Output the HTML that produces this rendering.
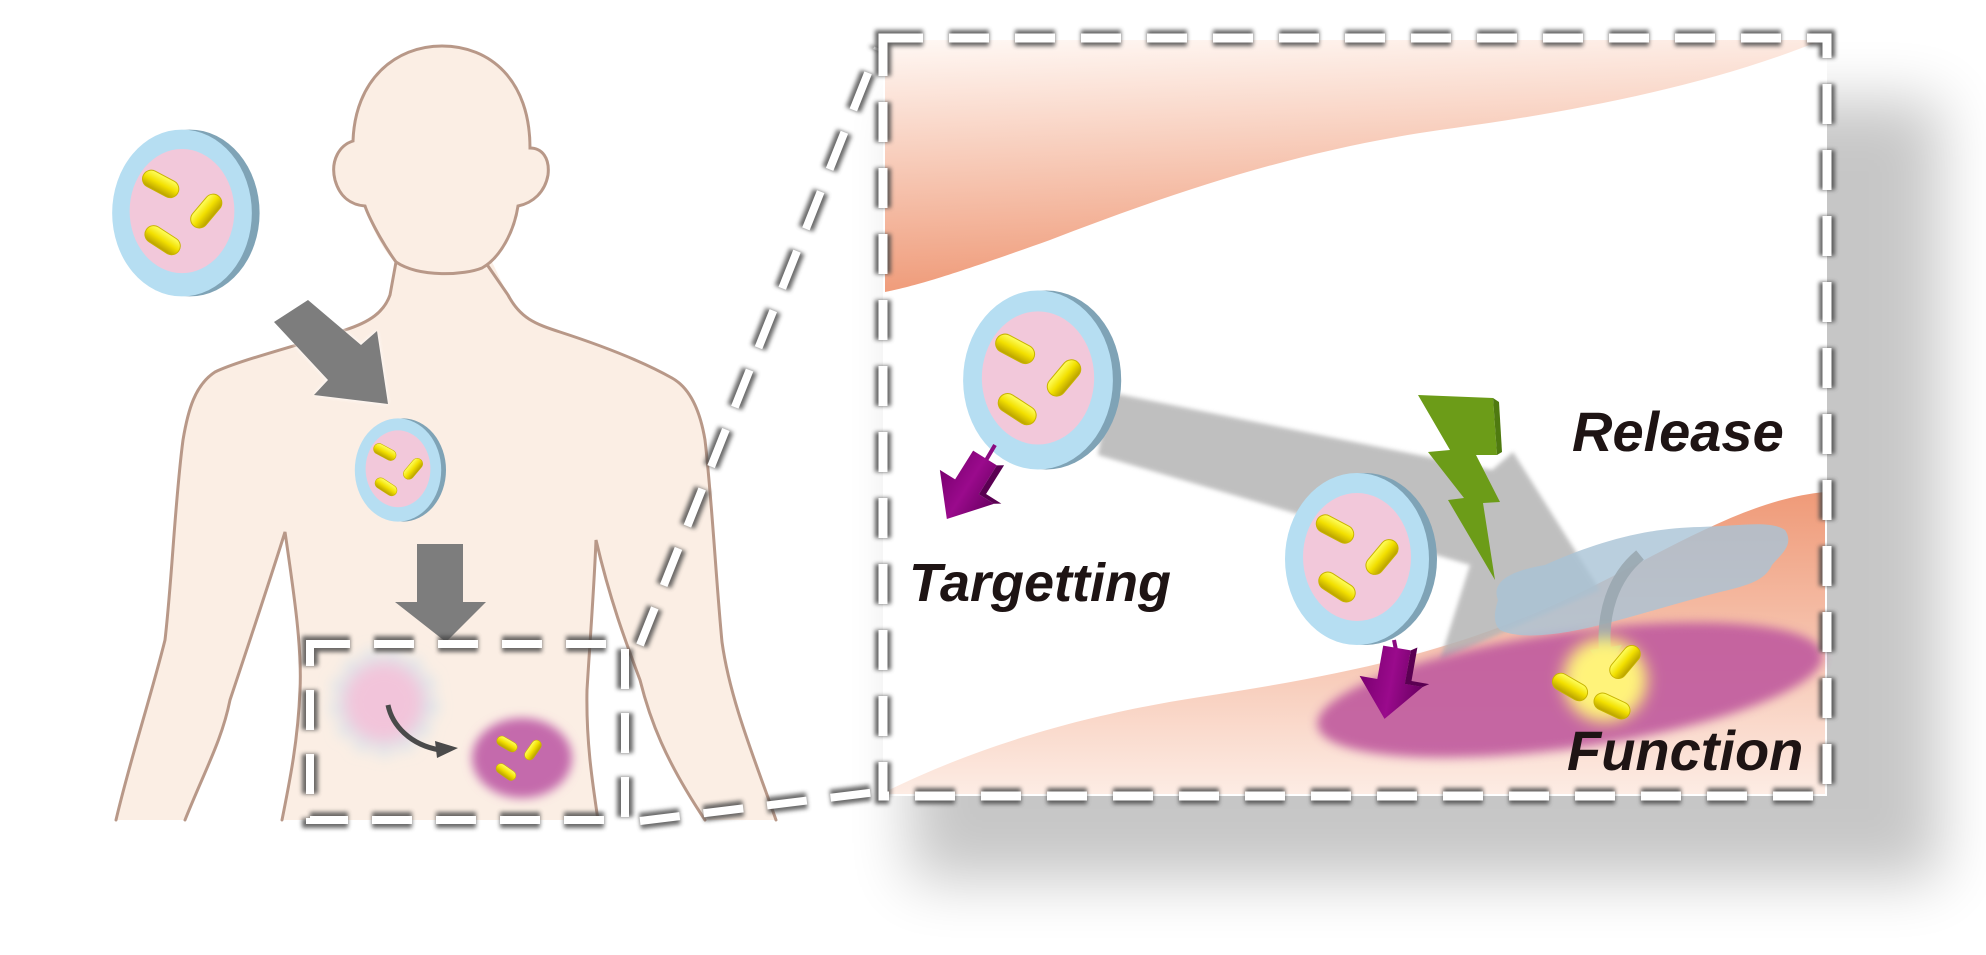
<!DOCTYPE html>
<html><head><meta charset="utf-8"><style>
html,body{margin:0;padding:0;background:#fff;}
svg{display:block;}
text{font-family:"Liberation Sans",Arial,sans-serif;font-weight:bold;font-style:italic;fill:#1e1414;}
</style></head><body>
<svg width="1986" height="955" viewBox="0 0 1986 955" xmlns="http://www.w3.org/2000/svg">
<defs>
<filter id="b2" x="-20%" y="-20%" width="140%" height="140%"><feGaussianBlur stdDeviation="2"/></filter>
<filter id="b5" x="-50%" y="-50%" width="200%" height="200%"><feGaussianBlur stdDeviation="5"/></filter>
<filter id="b8" x="-50%" y="-50%" width="200%" height="200%"><feGaussianBlur stdDeviation="8"/></filter>
<filter id="sh" x="-20%" y="-20%" width="150%" height="150%"><feGaussianBlur stdDeviation="30"/></filter>
<linearGradient id="topg" x1="0" y1="0" x2="0.15" y2="1"><stop offset="0" stop-color="#fff8f4"/><stop offset="1" stop-color="#ef9a78"/></linearGradient>
<linearGradient id="botg" x1="0" y1="0" x2="0" y2="1"><stop offset="0" stop-color="#ef9a78"/><stop offset="1" stop-color="#fdece4"/></linearGradient>
<linearGradient id="yel" x1="0" y1="0" x2="0" y2="1"><stop offset="0" stop-color="#ffff60"/><stop offset="0.5" stop-color="#f2e000"/><stop offset="1" stop-color="#b8a000"/></linearGradient>
<linearGradient id="pur" x1="0" y1="0" x2="1" y2="0"><stop offset="0" stop-color="#7a0070"/><stop offset="0.5" stop-color="#9a0a8c"/><stop offset="1" stop-color="#6a0062"/></linearGradient>
<g id="bact"><rect x="-20" y="-9" width="40" height="18" rx="9" fill="url(#yel)" stroke="#c8b400" stroke-width="1"/></g>
<g id="particle">
<ellipse cx="8" cy="0" rx="72" ry="86" fill="#7fa3b6"/>
<ellipse cx="0" cy="0" rx="72" ry="86" fill="#b6def2"/>
<ellipse cx="0" cy="-2" rx="54" ry="64" fill="#f2c8da"/>
<use href="#bact" transform="translate(-22,-30) rotate(28)"/>
<use href="#bact" transform="translate(25,-2) rotate(-50)"/>
<use href="#bact" transform="translate(-20,28) rotate(33)"/>
</g>
<g id="parr">
<polygon points="-14,0 14,0 14,34 32,34 0,72 -32,34 -14,34" fill="url(#pur)"/>
<polygon points="14,0 20,-4 20,30 38,30 32,34 14,34" fill="#5a0052"/>
</g>
</defs>

<!-- panel shadow -->
<rect x="910" y="100" width="1030" height="780" fill="#000" opacity="0.22" filter="url(#sh)"/>

<!-- BODY -->
<path d="M442,46 C395,46 355,80 353,141 C340,145 330,160 335,180 C340,198 352,205 365,206 C370,225 385,255 396,262 L390,295 C384,312 370,322 345,330 C300,345 240,360 215,372 C195,385 188,410 183,440 C175,500 172,580 165,640 C150,700 130,760 116,820 L185,820 C205,770 222,740 230,700 C250,640 270,580 285,532 C295,600 302,650 300,690 C298,740 290,780 282,820 L598,820 C592,780 586,740 587,690 C590,640 594,590 596,540 C610,600 625,640 640,680 C650,720 665,760 705,820 L776,820 C755,760 730,700 722,642 C716,580 712,500 705,440 C700,410 690,388 672,378 C640,360 600,345 560,332 C535,324 520,318 508,295 L492,262 C505,250 514,232 518,206 C533,203 545,192 548,175 C550,158 542,148 530,148 C530,80 490,46 442,46 Z" fill="#fbeee4"/>
<g fill="none" stroke="#b89888" stroke-width="3" stroke-linecap="round">
<path d="M396,262 C380,240 368,215 365,206 C352,205 340,198 335,180 C330,160 340,145 353,141 C355,80 395,46 442,46 C490,46 530,80 530,148 C542,148 550,158 548,175 C545,192 533,203 518,206 C514,232 500,258 482,268 C465,275 420,278 396,262"/>
<path d="M396,262 L390,295 C384,312 370,322 345,330 C300,345 240,360 215,372 C195,385 188,410 183,440 C175,500 172,580 165,640 C150,700 130,760 116,820"/>
<path d="M488,266 L508,295 C520,318 535,324 560,332 C600,345 640,360 672,378 C690,388 700,410 705,440 C712,500 716,580 722,642 C730,700 755,760 776,820"/>
<path d="M185,820 C205,770 222,740 230,700 C250,640 270,580 285,532 C295,600 302,650 300,690 C298,740 290,780 282,820"/>
<path d="M598,820 C592,780 586,740 587,690 C590,640 594,590 596,540 C610,600 625,640 640,680 C650,720 665,760 705,820"/>
</g>

<use href="#particle" transform="translate(182,213) scale(0.97)"/>

<g filter="url(#b2)" opacity="0.9"><polygon points="274,322 308,300 361,345 377,331 388,404 314,395 328,380" fill="#fff"/></g>
<polygon points="274,322 308,300 361,345 377,331 388,404 314,395 328,380" fill="#7d7d7d"/>
<use href="#particle" transform="translate(398,470) scale(0.6)"/>
<polygon points="417,544 463,544 463,602 486,602 446,642 395,602 417,602" fill="#7d7d7d"/>

<g filter="url(#b8)"><circle cx="384" cy="702" r="40" fill="#f2c4da"/>
<circle cx="384" cy="702" r="46" fill="none" stroke="#b8dcef" stroke-width="10" stroke-dasharray="12 10"/></g>
<path d="M388,705 C392,725 410,745 440,750" fill="none" stroke="#4a4a4a" stroke-width="5"/>
<polygon points="435,741 458,748 437,758" fill="#4a4a4a"/>
<ellipse cx="522" cy="758" rx="50" ry="40" fill="#c46aac" filter="url(#b5)"/>
<use href="#bact" transform="translate(507,744) rotate(30) scale(0.55)"/>
<use href="#bact" transform="translate(533,750) rotate(-55) scale(0.55)"/>
<use href="#bact" transform="translate(506,772) rotate(35) scale(0.55)"/>

<g fill="none" stroke-dasharray="40 24">
<g stroke="#444" stroke-width="16" opacity="0.8" filter="url(#b2)">
<rect x="310" y="644" width="315" height="176"/>
<path d="M640,645 L878,48"/><path d="M640,821 L885,791"/>
</g>
<g stroke="#fff" stroke-width="8">
<rect x="310" y="644" width="315" height="176"/>
<path d="M640,645 L878,48"/><path d="M640,821 L885,791"/>
</g>
</g>

<!-- PANEL -->
<rect x="883" y="38" width="944" height="758" fill="#fff"/>
<path d="M885,40 L1822,40 C1700,90 1550,115 1440,130 C1300,150 1180,190 1050,240 C960,272 920,285 885,292 Z" fill="url(#topg)"/>
<path d="M885,792 C950,760 1050,720 1200,697 C1350,674 1450,652 1560,602 C1660,556 1740,500 1825,492 L1825,794 L885,794 Z" fill="url(#botg)"/>
<g filter="url(#b2)" opacity="0.85"><polygon points="1108,392 1492,470 1513,452 1600,590 1440,660 1470,565 1098,455" fill="#b5b5b5"/></g>
<ellipse cx="1570" cy="690" rx="255" ry="58" transform="rotate(-8 1570 690)" fill="#c05a9e" opacity="0.9" filter="url(#b5)"/>
<use href="#particle" transform="translate(1038,380) scale(1.04)"/>
<use href="#particle" transform="translate(1357,559) scale(1.0)"/>
<line x1="995" y1="445" x2="985" y2="462" stroke="#8a0a80" stroke-width="4"/>
<use href="#parr" transform="translate(985,458) rotate(32)"/>
<line x1="1394" y1="640" x2="1396" y2="650" stroke="#8a0a80" stroke-width="4"/>
<use href="#parr" transform="translate(1397,648) rotate(10)"/>
<polygon points="1418,395 1493,398 1497,455 1476,455 1500,502 1483,503 1495,580 1448,500 1464,498 1428,452 1450,450" fill="#6c9c18"/>
<polygon points="1493,398 1499,402 1502,452 1497,455" fill="#4f7a10"/>
<!-- cloud -->
<path d="M1498,600 C1490,580 1515,570 1545,565 C1590,545 1640,528 1700,527 C1740,526 1770,520 1785,530 C1795,545 1780,555 1772,565 C1765,580 1750,585 1720,592 C1680,602 1640,615 1600,625 C1560,635 1520,640 1500,630 C1492,622 1495,610 1498,600 Z" fill="#a9c3d6" opacity="0.8"/>
<path d="M1640,555 C1612,578 1602,615 1605,650" fill="none" stroke="#9aa7b0" stroke-width="12" opacity="0.9"/>
<polygon points="1590,650 1622,645 1606,672" fill="#9aa7b0"/>
<circle cx="1605" cy="680" r="42" fill="#fff37a" filter="url(#b8)"/>
<use href="#bact" transform="translate(1570,687) rotate(30) scale(0.95)"/>
<use href="#bact" transform="translate(1625,662) rotate(-50) scale(0.95)"/>
<use href="#bact" transform="translate(1612,706) rotate(25) scale(0.95)"/>
<text x="909" y="601" font-size="54">Targetting</text>
<text x="1572" y="451" font-size="56">Release</text>
<text x="1567" y="770" font-size="56">Function</text>
<rect x="883" y="38" width="944" height="758" fill="none" stroke="#4a4a4a" stroke-width="16" stroke-dasharray="40 26" opacity="0.85" filter="url(#b2)"/>
<rect x="883" y="38" width="944" height="758" fill="none" stroke="#fff" stroke-width="9" stroke-dasharray="40 26"/>
</svg>
</body></html>
